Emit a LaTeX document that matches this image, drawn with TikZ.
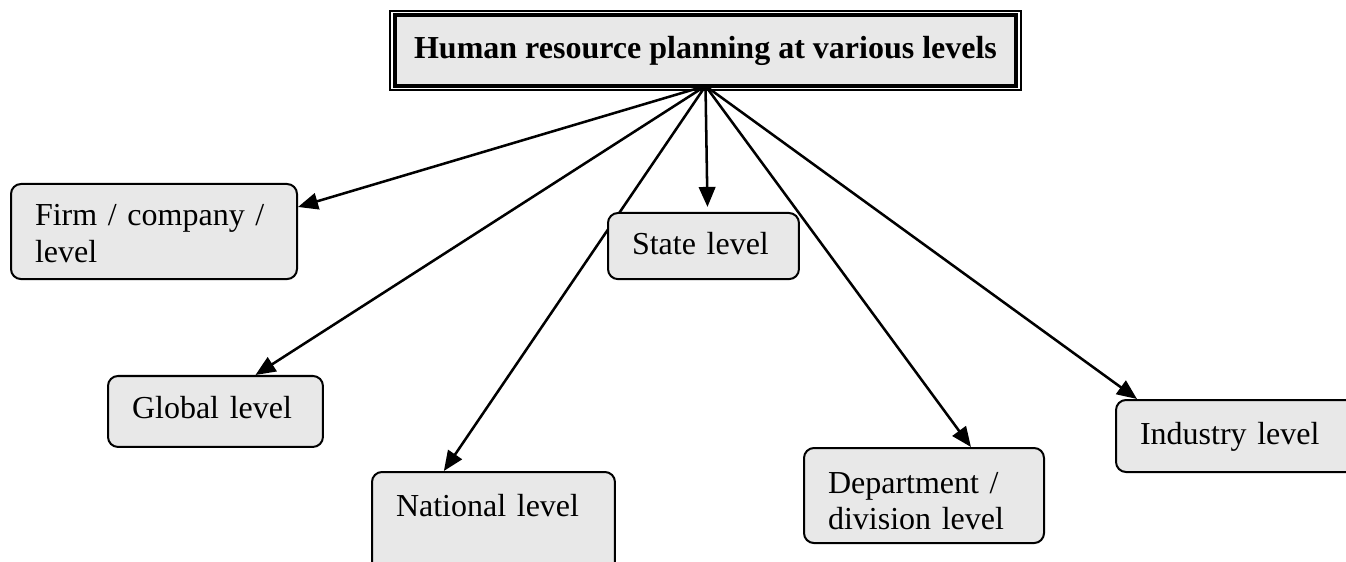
\documentclass[tikz,border=0pt]{standalone}
\usepackage{fontspec}
\setmainfont{Liberation Serif}
\usetikzlibrary{arrows.meta,backgrounds}
\definecolor{boxgray}{RGB}{232,232,232}
\tikzset{
  levelbox/.style={draw,fill=boxgray,line width=.75pt,rounded corners=3.75pt,
    anchor=north west,align=left,inner xsep=9pt,inner ysep=0pt,
    font=\fontsize{12}{13.8}\selectfont},
  levelarrow/.style={-{Triangle[length=7.5pt,width=6.2pt]},line width=.95pt}
}
\begin{document}
\begin{tikzpicture}[x=.375pt,y=-.375pt]
\useasboundingbox (0,0) rectangle (1346,562);
% title with thin-thick frame
\node[draw,fill=boxgray,line width=1.5pt,outer sep=0pt,minimum width=232.9pt,
  minimum height=26.6pt,font=\fontsize{12}{13.8}\selectfont\bfseries]
  (title) at (705.5,50.5) {Human resource planning at various levels};
\draw[line width=.75pt] ([shift={(-4.5,-4.5)}]title.north west) rectangle ([shift={(4.5,4.5)}]title.south east);
\coordinate (hub) at (title.south);
%
\node[levelbox,text width=89.25pt,text height=15.75pt,text depth=19.9pt] (firm) at (10,183) {Firm / company /\\level};
\node[levelbox,text width=53.6pt,text height=15.4pt,text depth=9.4pt] (state) at (607,212) {State level};
\node[levelbox,text width=62.6pt,text height=16.1pt,text depth=10.5pt] (global) at (107,375) {Global level};
\node[levelbox,text width=73.1pt,text height=16.5pt,text depth=22.5pt] (national) at (371,471) {National level};
\node[levelbox,text width=72pt,text height=16.9pt,text depth=18.75pt] (dept) at (803,447) {Department /\\division level};
\node[levelbox,text width=73.9pt,text height=16.5pt,text depth=10.5pt] (industry) at (1115,399) {Industry level};
%
\begin{pgfonlayer}{background}
\draw[levelarrow] (hub) -- ([yshift=-9pt]firm.north east);
\draw[levelarrow] (hub) -- ([xshift=15pt]global.north);
\draw[levelarrow] (hub) -- ([xshift=-18.6pt]national.north);
\draw[levelarrow] (hub) -- ([xshift=1.5pt,yshift=1.9pt]state.north);
\draw[levelarrow] (hub) -- ([xshift=17.6pt]dept.north);
\draw[levelarrow] (hub) -- ([xshift=8.25pt]industry.north west);
\end{pgfonlayer}
\end{tikzpicture}
\end{document}
